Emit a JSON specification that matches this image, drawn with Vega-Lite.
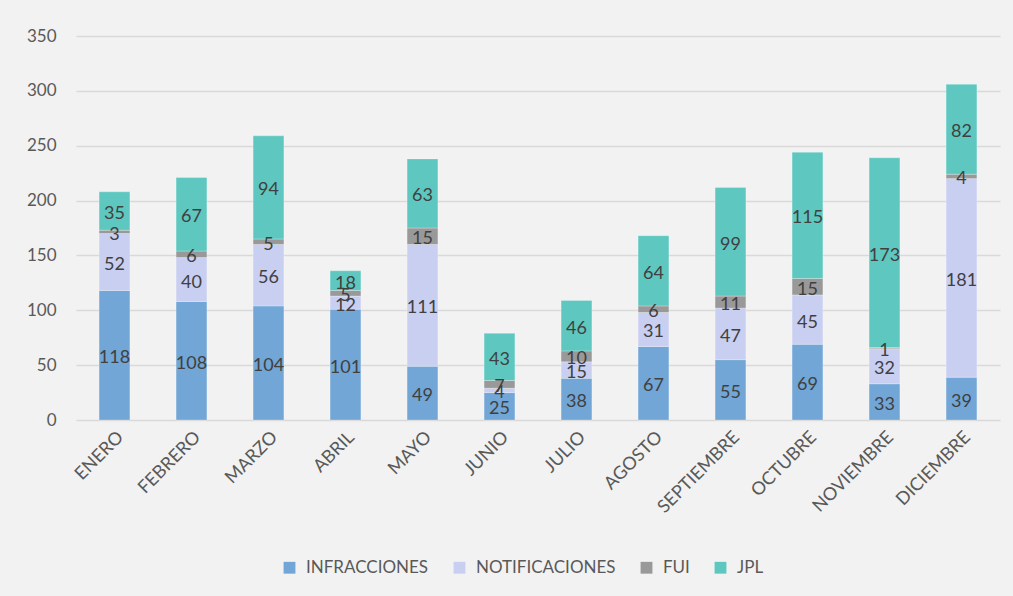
{
  "$schema": "https://vega.github.io/schema/vega-lite/v6.json",
  "autosize": {"type": "none"},
  "width": 924,
  "height": 384,
  "padding": {"left": 76, "top": 36, "right": 13, "bottom": 176},
  "background": "#f2f2f2",
  "config": {
    "font": "Lato",
    "view": {"stroke": null},
    "axis": {"labelFont": "Lato", "labelColor": "#595959"},
    "legend": {"labelFont": "Lato", "labelColor": "#595959"}
  },
  "data": {
    "values": [
      {"mes": "ENERO", "tipo": "INFRACCIONES", "orden": 1, "valor": 118},
      {"mes": "ENERO", "tipo": "NOTIFICACIONES", "orden": 2, "valor": 52},
      {"mes": "ENERO", "tipo": "FUI", "orden": 3, "valor": 3},
      {"mes": "ENERO", "tipo": "JPL", "orden": 4, "valor": 35},
      {"mes": "FEBRERO", "tipo": "INFRACCIONES", "orden": 1, "valor": 108},
      {"mes": "FEBRERO", "tipo": "NOTIFICACIONES", "orden": 2, "valor": 40},
      {"mes": "FEBRERO", "tipo": "FUI", "orden": 3, "valor": 6},
      {"mes": "FEBRERO", "tipo": "JPL", "orden": 4, "valor": 67},
      {"mes": "MARZO", "tipo": "INFRACCIONES", "orden": 1, "valor": 104},
      {"mes": "MARZO", "tipo": "NOTIFICACIONES", "orden": 2, "valor": 56},
      {"mes": "MARZO", "tipo": "FUI", "orden": 3, "valor": 5},
      {"mes": "MARZO", "tipo": "JPL", "orden": 4, "valor": 94},
      {"mes": "ABRIL", "tipo": "INFRACCIONES", "orden": 1, "valor": 101},
      {"mes": "ABRIL", "tipo": "NOTIFICACIONES", "orden": 2, "valor": 12},
      {"mes": "ABRIL", "tipo": "FUI", "orden": 3, "valor": 5},
      {"mes": "ABRIL", "tipo": "JPL", "orden": 4, "valor": 18},
      {"mes": "MAYO", "tipo": "INFRACCIONES", "orden": 1, "valor": 49},
      {"mes": "MAYO", "tipo": "NOTIFICACIONES", "orden": 2, "valor": 111},
      {"mes": "MAYO", "tipo": "FUI", "orden": 3, "valor": 15},
      {"mes": "MAYO", "tipo": "JPL", "orden": 4, "valor": 63},
      {"mes": "JUNIO", "tipo": "INFRACCIONES", "orden": 1, "valor": 25},
      {"mes": "JUNIO", "tipo": "NOTIFICACIONES", "orden": 2, "valor": 4},
      {"mes": "JUNIO", "tipo": "FUI", "orden": 3, "valor": 7},
      {"mes": "JUNIO", "tipo": "JPL", "orden": 4, "valor": 43},
      {"mes": "JULIO", "tipo": "INFRACCIONES", "orden": 1, "valor": 38},
      {"mes": "JULIO", "tipo": "NOTIFICACIONES", "orden": 2, "valor": 15},
      {"mes": "JULIO", "tipo": "FUI", "orden": 3, "valor": 10},
      {"mes": "JULIO", "tipo": "JPL", "orden": 4, "valor": 46},
      {"mes": "AGOSTO", "tipo": "INFRACCIONES", "orden": 1, "valor": 67},
      {"mes": "AGOSTO", "tipo": "NOTIFICACIONES", "orden": 2, "valor": 31},
      {"mes": "AGOSTO", "tipo": "FUI", "orden": 3, "valor": 6},
      {"mes": "AGOSTO", "tipo": "JPL", "orden": 4, "valor": 64},
      {"mes": "SEPTIEMBRE", "tipo": "INFRACCIONES", "orden": 1, "valor": 55},
      {"mes": "SEPTIEMBRE", "tipo": "NOTIFICACIONES", "orden": 2, "valor": 47},
      {"mes": "SEPTIEMBRE", "tipo": "FUI", "orden": 3, "valor": 11},
      {"mes": "SEPTIEMBRE", "tipo": "JPL", "orden": 4, "valor": 99},
      {"mes": "OCTUBRE", "tipo": "INFRACCIONES", "orden": 1, "valor": 69},
      {"mes": "OCTUBRE", "tipo": "NOTIFICACIONES", "orden": 2, "valor": 45},
      {"mes": "OCTUBRE", "tipo": "FUI", "orden": 3, "valor": 15},
      {"mes": "OCTUBRE", "tipo": "JPL", "orden": 4, "valor": 115},
      {"mes": "NOVIEMBRE", "tipo": "INFRACCIONES", "orden": 1, "valor": 33},
      {"mes": "NOVIEMBRE", "tipo": "NOTIFICACIONES", "orden": 2, "valor": 32},
      {"mes": "NOVIEMBRE", "tipo": "FUI", "orden": 3, "valor": 1},
      {"mes": "NOVIEMBRE", "tipo": "JPL", "orden": 4, "valor": 173},
      {"mes": "DICIEMBRE", "tipo": "INFRACCIONES", "orden": 1, "valor": 39},
      {"mes": "DICIEMBRE", "tipo": "NOTIFICACIONES", "orden": 2, "valor": 181},
      {"mes": "DICIEMBRE", "tipo": "FUI", "orden": 3, "valor": 4},
      {"mes": "DICIEMBRE", "tipo": "JPL", "orden": 4, "valor": 82}
    ]
  },
  "transform": [
    {"stack": "valor", "groupby": ["mes"], "sort": [{"field": "orden", "order": "ascending"}], "as": ["v0", "v1"]},
    {"calculate": "(datum.v0 + datum.v1) / 2", "as": "vmid"}
  ],
  "encoding": {
    "x": {
      "field": "mes",
      "type": "nominal",
      "sort": null,
      "scale": {"paddingInner": 0.6, "paddingOuter": 0.3},
      "axis": {
        "title": null,
        "labelAngle": -45,
        "labelFontSize": 18,
        "labelColor": "#595959",
        "labelPadding": 8,
        "ticks": false,
        "domain": false
      }
    }
  },
  "layer": [
    {
      "mark": {"type": "bar", "stroke": "#ffffff", "strokeOpacity": 0.5, "strokeWidth": 0.5},
      "encoding": {
        "y": {
          "field": "v0",
          "type": "quantitative",
          "scale": {"domain": [0, 350]},
          "axis": {
            "title": null,
            "values": [0, 50, 100, 150, 200, 250, 300, 350],
            "labelFontSize": 17,
            "labelColor": "#595959",
            "labelPadding": 20,
            "ticks": false,
            "domain": false,
            "gridColor": "#d9d9d9",
            "gridWidth": 1.5
          }
        },
        "y2": {"field": "v1"},
        "color": {
          "field": "tipo",
          "type": "nominal",
          "scale": {
            "domain": ["INFRACCIONES", "NOTIFICACIONES", "FUI", "JPL"],
            "range": ["#72a6d6", "#c9cff1", "#999999", "#5ec8c0"]
          },
          "legend": {
            "title": null,
            "orient": "none",
            "direction": "horizontal",
            "legendX": 205,
            "legendY": 523,
            "symbolType": "square",
            "symbolSize": 140,
            "symbolStrokeWidth": 0,
            "labelFontSize": 17,
            "labelColor": "#595959",
            "columnPadding": 22,
            "labelOffset": 8
          }
        }
      }
    },
    {
      "mark": {"type": "text", "fontSize": 18, "color": "#404040", "font": "Lato", "dy": 3},
      "encoding": {
        "y": {"field": "vmid", "type": "quantitative"},
        "text": {"field": "valor", "type": "quantitative"}
      }
    }
  ]
}
